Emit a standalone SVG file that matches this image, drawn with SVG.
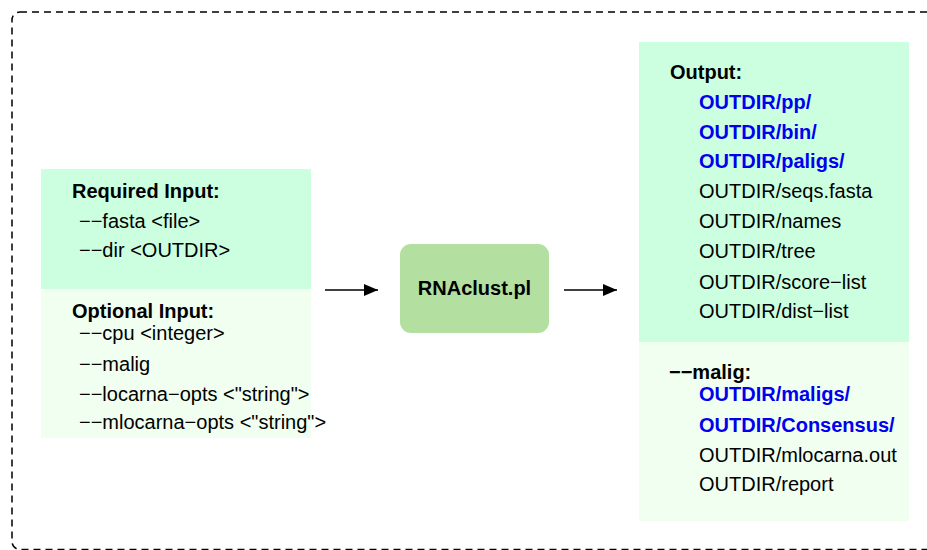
<svg xmlns="http://www.w3.org/2000/svg" width="927" height="550" viewBox="0 0 927 550">
<style>
text { font-family: "Liberation Sans", Arial, sans-serif; font-size: 20px; fill: #000; }
.b { font-weight: bold; }
.blue { font-weight: bold; fill: #0000ee; }
.req { fill: #ccffe0; }
.opt { fill: #f0fff0; }
</style>
<defs>
<marker id="ah" markerWidth="14" markerHeight="12" refX="14" refY="6" orient="auto" markerUnits="userSpaceOnUse">
<path d="M0,0 L14,6 L0,12 Z" fill="#000"/>
</marker>
</defs>
<rect x="12" y="12" width="935" height="537.5" rx="8" fill="none" stroke="#000" stroke-width="1.5" stroke-dasharray="7 5"/>
<g id="input">
<rect class="req" x="41" y="169" width="270" height="120"/>
<rect class="opt" x="41" y="289" width="270" height="149"/>
<text class="b" x="72" y="198">Required Input:</text>
<text x="79" y="228">−−fasta &lt;file&gt;</text>
<text x="79" y="257">−−dir &lt;OUTDIR&gt;</text>
<text class="b" x="72" y="318">Optional Input:</text>
<text x="79" y="340">−−cpu &lt;integer&gt;</text>
<text x="79" y="371">−−malig</text>
<text x="79" y="401">−−locarna−opts &lt;"string"&gt;</text>
<text x="79" y="429">−−mlocarna−opts &lt;"string"&gt;</text>
</g>
<g id="rnaclust">
<rect x="400" y="244" width="149" height="89" rx="11" fill="#b3e0a0"/>
<text class="b" x="474.5" y="295" text-anchor="middle">RNAclust.pl</text>
</g>
<g id="output">
<rect class="req" x="639" y="42" width="270" height="300"/>
<rect class="opt" x="639" y="342" width="270" height="179"/>
<text class="b" x="670" y="79">Output:</text>
<text class="blue" x="699" y="109">OUTDIR/pp/</text>
<text class="blue" x="699" y="139">OUTDIR/bin/</text>
<text class="blue" x="699" y="168">OUTDIR/paligs/</text>
<text x="699" y="198">OUTDIR/seqs.fasta</text>
<text x="699" y="228">OUTDIR/names</text>
<text x="699" y="258">OUTDIR/tree</text>
<text x="699" y="289">OUTDIR/score−list</text>
<text x="699" y="318">OUTDIR/dist−list</text>
<text class="b" x="669" y="379">−−malig:</text>
<text class="blue" x="699" y="401">OUTDIR/maligs/</text>
<text class="blue" x="699" y="432">OUTDIR/Consensus/</text>
<text x="699" y="462">OUTDIR/mlocarna.out</text>
<text x="699" y="491">OUTDIR/report</text>
</g>
<g id="connectors" stroke="#000" stroke-width="1.5">
<line x1="325" y1="290" x2="378" y2="290" marker-end="url(#ah)"/>
<line x1="564" y1="290" x2="617" y2="290" marker-end="url(#ah)"/>
</g>
</svg>
